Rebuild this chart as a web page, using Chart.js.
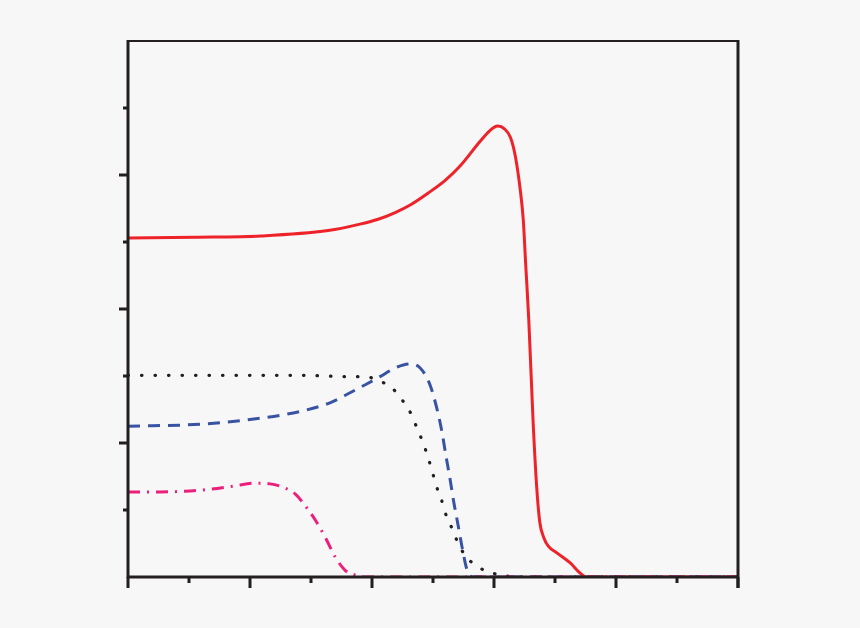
<!DOCTYPE html>
<html>
<head>
<meta charset="utf-8">
<script src="https://cdn.jsdelivr.net/npm/chart.js@4.4.1/dist/chart.umd.min.js"></script>
<style>
  html, body { margin: 0; padding: 0; background: #f7f7f7; }
  #wrap { width: 860px; height: 628px; }
</style>
</head>
<body>
<div id="wrap"><canvas id="myChart" width="860" height="628"></canvas></div>
<script>
// axis ranges
const xMin = 0, xMax = 10;
const yMin = 0, yMax = 8;

// solid red
const redX = [0, 1.1, 2.18, 3.28, 3.82, 4.1, 4.38, 4.64, 4.92, 5.2, 5.44, 5.77, 5.93, 6.06, 6.17, 6.27, 6.35, 6.43, 6.48, 6.52, 6.57, 6.64, 6.7, 6.75, 6.82, 6.89, 7.03, 7.25, 7.41, 7.52, 10];
const redY = [5.06, 5.07, 5.09, 5.17, 5.27, 5.34, 5.44, 5.56, 5.73, 5.92, 6.13, 6.5, 6.66, 6.73, 6.69, 6.56, 6.28, 5.78, 5.33, 4.66, 3.84, 2.34, 1.34, 0.82, 0.58, 0.46, 0.36, 0.21, 0.06, 0, 0];

// dotted black
const blackX = [0, 2.82, 3.67, 3.89, 4.11, 4.33, 4.52, 4.66, 4.75, 4.84, 4.92, 4.98, 5.05, 5.13, 5.2, 5.3, 5.39, 5.52, 5.74, 5.97, 6.2, 6.43, 10];
const blackY = [3.01, 3.01, 2.99, 2.99, 2.93, 2.82, 2.61, 2.4, 2.19, 2.0, 1.78, 1.6, 1.37, 1.18, 0.96, 0.75, 0.55, 0.33, 0.15, 0.06, 0.015, 0, 0];

// dashed blue
const blueX = [0, 1.18, 2, 2.82, 3.31, 3.64, 3.89, 4.13, 4.38, 4.62, 4.79, 4.95, 5.07, 5.15, 5.21, 5.28, 5.34, 5.41, 5.48, 5.56, 5.66, 10];
const blueY = [2.25, 2.28, 2.35, 2.47, 2.6, 2.75, 2.87, 2.99, 3.12, 3.18, 3.12, 2.87, 2.49, 2.15, 1.82, 1.46, 1.12, 0.78, 0.43, 0.1, 0, 0];

// dash-dot pink
const pinkX = [0, 0.52, 0.93, 1.34, 1.75, 2.08, 2.33, 2.57, 2.74, 2.9, 3.07, 3.23, 3.39, 3.56, 3.72, 3.89, 10];
const pinkY = [1.27, 1.27, 1.28, 1.31, 1.36, 1.4, 1.39, 1.33, 1.24, 1.07, 0.85, 0.6, 0.31, 0.1, 0.03, 0, 0];

const toPoints = (xs, ys) => xs.map((x, i) => ({ x: x, y: ys[i] }));

const axisColor = "#231f20";

// frame and tick marks, placed with the chart's own scales
const framePlugin = {
  id: "frame",
  afterDraw(chart) {
    const ctx = chart.ctx;
    const { left, right, top, bottom } = chart.chartArea;
    const xs = chart.scales.x;
    const ys = chart.scales.y;
    ctx.save();
    ctx.strokeStyle = axisColor;
    ctx.lineCap = "butt";

    ctx.lineWidth = 2;
    ctx.beginPath();
    ctx.moveTo(left, top);
    ctx.lineTo(right, top);
    ctx.stroke();

    ctx.lineWidth = 3;
    ctx.beginPath();
    ctx.moveTo(left, top - 1);
    ctx.lineTo(left, bottom + 1);
    ctx.moveTo(left - 1, bottom);
    ctx.lineTo(right + 1, bottom);
    ctx.moveTo(right, top - 1);
    ctx.lineTo(right, bottom + 11);
    ctx.stroke();

    ctx.lineWidth = 3;
    ctx.beginPath();
    for (let v = xMin; v <= xMax; v++) {
      const px = xs.getPixelForValue(v);
      const len = v % 2 === 0 ? 11 : 6;
      ctx.moveTo(px, bottom);
      ctx.lineTo(px, bottom + len);
    }
    for (let v = yMin + 1; v < yMax; v++) {
      const py = ys.getPixelForValue(v);
      const len = v % 2 === 0 ? 9 : 5;
      ctx.moveTo(left, py);
      ctx.lineTo(left - len, py);
    }
    ctx.stroke();
    ctx.restore();
  },
};

const bgPlugin = {
  id: "bg",
  beforeDraw(chart) {
    const ctx = chart.ctx;
    ctx.save();
    ctx.fillStyle = "#f7f7f7";
    ctx.fillRect(0, 0, chart.width, chart.height);
    ctx.restore();
  },
};

new Chart(document.getElementById("myChart"), {
  type: "line",
  data: {
    datasets: [
      {
        data: toPoints(pinkX, pinkY),
        borderColor: "#ec1f7b",
        borderWidth: 3,
        borderDash: [12, 7, 2, 7],
      },
      {
        data: toPoints(blackX, blackY),
        borderColor: "#231f20",
        borderWidth: 3.2,
        borderDash: [0.5, 13],
        borderCapStyle: "round",
      },
      {
        data: toPoints(blueX, blueY),
        borderColor: "#3953a4",
        borderWidth: 3,
        borderDash: [12, 8],
      },
      {
        data: toPoints(redX, redY),
        borderColor: "#ee2229",
        borderWidth: 3,
      },
    ],
  },
  options: {
    responsive: false,
    animation: false,
    devicePixelRatio: 1,
    layout: { padding: { left: 128, right: 122, top: 41, bottom: 51 } },
    elements: {
      point: { radius: 0 },
      line: { cubicInterpolationMode: "monotone", fill: false },
    },
    plugins: { legend: { display: false }, tooltip: { enabled: false } },
    scales: {
      x: { type: "linear", min: xMin, max: xMax, display: false },
      y: { type: "linear", min: yMin, max: yMax, display: false },
    },
  },
  plugins: [bgPlugin, framePlugin],
});
</script>
</body>
</html>
